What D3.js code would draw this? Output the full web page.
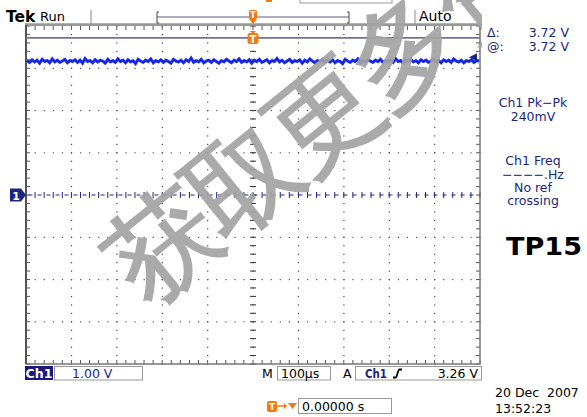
<!DOCTYPE html>
<html><head><meta charset="utf-8">
<script src="https://cdn.jsdelivr.net/npm/d3@7/dist/d3.min.js"></script>
<style>
body{margin:0;background:#fff}
svg{display:block}
text{font-family:"DejaVu Sans",Verdana,sans-serif}
</style>
</head><body>
<svg id="c" width="587" height="417"></svg>
<script>
// ---- data ----
const traceVolts = [
3.18,3.14,3.20,3.15,3.19,3.12,3.21,3.16,3.18,3.13,3.22,3.15,3.19,3.14,3.17,3.21,3.13,3.18,3.16,3.20,
3.14,3.19,3.12,3.23,3.16,3.18,3.13,3.20,3.15,3.19,3.17,3.12,3.21,3.15,3.18,3.14,3.22,3.16,3.19,3.13,
3.20,3.15,3.18,3.11,3.21,3.17,3.14,3.19,3.16,3.22,3.13,3.18,3.15,3.20,3.14,3.19,3.16,3.12,3.21,3.17,
3.15,3.19,3.13,3.20,3.16,3.24,3.14,3.18,3.15,3.21,3.13,3.17,3.19,3.14,3.20,3.16,3.12,3.18,3.15,3.21,
3.17,3.13,3.19,3.16,3.22,3.14,3.18,3.15,3.20,3.12,3.19,3.16,3.21,3.14,3.17,3.20,3.13,3.18,3.16,3.23,
3.15,3.19,3.13,3.17,3.21,3.14,3.18,3.16,3.20,3.12,3.19,3.15,3.22,3.17,3.13,3.18,3.16,3.21,3.14,3.19,
3.15,3.20,3.13,3.18,3.16,3.11,3.21,3.17,3.14,3.19,3.16,3.22,3.13,3.18,3.15,3.20,3.17,3.14,3.19,3.16,
3.21,3.13,3.18,3.15,3.20,3.14,3.23,3.16,3.18,3.12,3.19,3.17,3.21,3.15,3.18,3.13,3.20,3.16,3.19,3.14,
3.17,3.21,3.15,3.18,3.13,3.20,3.16,3.19,3.14,3.22,3.17,3.15,3.19,3.13,3.18,3.16,3.20,3.14,3.18,3.17
];
const timeDomain = [-500, 500];      // µs (100 µs/div, 10 div)
const voltDomain = [-4, 4];          // V (1.00 V/div, 8 div)
const cursorVolts = 3.72;
const triggerVolts = 3.26;
const cursorReadout = [["Δ:", "3.72 V"], ["@:", "3.72 V"]];
const measureLines = [["Ch1 Pk−Pk", 107], ["240mV", 121], ["Ch1 Freq", 165], ["−−−−.Hz", 178.5], ["No ref", 191.5], ["crossing", 205]];
const dateLines = ["20 Dec  2007", "13:52:23"];
const watermark = "获取更多资料";

// ---- layout ----
const svg = d3.select("#c");
const L = 26, R = 480, T = 26, B = 364;
const x = d3.scaleLinear().domain(timeDomain).range([L, R]);
const y = d3.scaleLinear().domain(voltDomain).range([B, T]);
const navy = "#1c2680", orange = "#f07a12", grey = "#888";

const majorT = d3.range(timeDomain[0], timeDomain[1] + 1, 100);
const minorT = d3.range(timeDomain[0], timeDomain[1] + 0.01, 20);
const majorV = d3.range(voltDomain[0], voltDomain[1] + 0.01, 1);
const minorV = d3.range(0, 41).map(i => voltDomain[0] + i * 0.2);

const g = svg.append("g");

// dotted graticule
majorT.slice(1, -1).forEach(t => {
  if (t === 0) return;
  g.selectAll(null).data(minorV).enter().append("rect")
    .attr("x", x(t) - 0.5).attr("y", d => y(d) - 0.5).attr("width", 1.2).attr("height", 1.2).attr("fill", "#444");
});
majorV.slice(1, -1).forEach(v => {
  if (v === 0) return;
  g.selectAll(null).data(minorT).enter().append("rect")
    .attr("x", d => x(d) - 0.5).attr("y", y(v) - 0.5).attr("width", 1.2).attr("height", 1.2).attr("fill", "#555");
});
// centre vertical with ticks
g.selectAll(null).data(minorV).enter().append("rect")
  .attr("x", x(0) - 0.5).attr("y", d => y(d) - 0.5).attr("width", 1.2).attr("height", 1.2).attr("fill", "#333");
g.selectAll(null).data(minorV).enter().append("line")
  .attr("x1", x(0) - 3).attr("x2", x(0) + 3).attr("y1", d => y(d)).attr("y2", d => y(d))
  .attr("stroke", "#333").attr("stroke-width", 1);
// centre horizontal (navy, dashed) with ticks
g.append("line").attr("x1", L).attr("x2", R).attr("y1", y(0)).attr("y2", y(0))
  .attr("stroke", navy).attr("stroke-width", 1.2).attr("stroke-dasharray", "4,5").attr("stroke-dashoffset", -2.5);
g.selectAll(null).data(minorT).enter().append("line")
  .attr("x1", d => x(d)).attr("x2", d => x(d)).attr("y1", y(0) - 3).attr("y2", y(0) + 3)
  .attr("stroke", navy).attr("stroke-width", 1);
// edge ticks
g.selectAll(null).data(minorT).enter().append("line")
  .attr("x1", d => x(d)).attr("x2", d => x(d)).attr("y1", T).attr("y2", T + 4).attr("stroke", "#555");
g.selectAll(null).data(minorT).enter().append("line")
  .attr("x1", d => x(d)).attr("x2", d => x(d)).attr("y1", B).attr("y2", B - 4).attr("stroke", "#555");
g.selectAll(null).data(minorV).enter().append("line")
  .attr("x1", L).attr("x2", L + 4).attr("y1", d => y(d)).attr("y2", d => y(d)).attr("stroke", "#555");
g.selectAll(null).data(minorV).enter().append("line")
  .attr("x1", R).attr("x2", R - 4).attr("y1", d => y(d)).attr("y2", d => y(d)).attr("stroke", "#555");
// frame
g.append("rect").attr("x", L).attr("y", T - 1).attr("width", R - L).attr("height", B - T + 1)
  .attr("fill", "none").attr("stroke", "#777").attr("stroke-width", 1.5);
g.append("line").attr("x1", L - 1).attr("x2", R + 1).attr("y1", T - 1.5).attr("y2", T - 1.5)
  .attr("stroke", "#999").attr("stroke-width", 2.5);
g.append("line").attr("x1", L).attr("x2", L).attr("y1", T - 1).attr("y2", B)
  .attr("stroke", "#555").attr("stroke-width", 2);

// cursor line
g.append("line").attr("x1", L).attr("x2", R).attr("y1", y(cursorVolts)).attr("y2", y(cursorVolts))
  .attr("stroke", "#6f7399").attr("stroke-width", 1.6);

// trace
const xi = d3.scaleLinear().domain([0, traceVolts.length - 1]).range([L + 1, R - 1]);
const lineGen = d3.line().x((d, i) => xi(i)).y(d => y(d));
g.append("path").datum(traceVolts).attr("d", lineGen)
  .attr("fill", "none").attr("stroke", "#4a5cf0").attr("stroke-width", 3.2)
  .attr("stroke-linejoin", "miter").attr("stroke-miterlimit", 6).attr("opacity", 0.85);
g.append("path").datum(traceVolts).attr("d", lineGen)
  .attr("fill", "none").attr("stroke", "#1424e0").attr("stroke-width", 2.4);

// trigger level marker (right edge)
const ty = y(triggerVolts);
g.append("path").attr("d", `M${R - 11},${ty} L${R - 3},${ty - 4} L${R - 3},${ty + 4} Z`).attr("fill", navy);

// watermark
const wm = svg.append("g").attr("transform", "translate(163,245) rotate(-39)");
wm.append("text").text(watermark)
  .attr("x", -54).attr("y", 0).attr("dominant-baseline", "central")
  .attr("font-family", "'Noto Sans CJK SC'").attr("font-size", 108).attr("letter-spacing", -5)
  .attr("fill", "#a3a3a3").attr("stroke", "#a3a3a3").attr("stroke-width", 1.5).attr("opacity", 0.92);
// mask out right panel
svg.append("rect").attr("x", 482).attr("y", 0).attr("width", 105).attr("height", 417).attr("fill", "#fff");

// T marker in grid
const tx = x(0);
g.append("path").attr("d", `M${tx - 3},${31} L${tx + 3},${31} L${tx},${34} Z`).attr("fill", orange);
g.append("rect").attr("x", tx - 5.5).attr("y", 33).attr("width", 11).attr("height", 11).attr("rx", 2.5).attr("fill", orange);
g.append("text").attr("x", tx).attr("y", 42.5).attr("text-anchor", "middle").attr("font-size", 10).attr("font-weight", "bold").attr("fill", "#fff").text("T");

// top header
svg.append("text").attr("x", 6).attr("y", 22).attr("font-family", "'Liberation Serif'").attr("font-weight", "bold").attr("font-size", 15.5).attr("fill", "#000").text("Tek");
svg.append("text").attr("x", 40).attr("y", 21).attr("font-size", 13).attr("fill", "#000").text("Run");
svg.append("line").attr("x1", 91).attr("x2", 91).attr("y1", 10).attr("y2", 24).attr("stroke", grey);
svg.append("line").attr("x1", 415).attr("x2", 415).attr("y1", 10).attr("y2", 24).attr("stroke", grey);
svg.append("text").attr("x", 419).attr("y", 21).attr("font-size", 14).attr("fill", "#000").text("Auto");
// record bracket
svg.append("line").attr("x1", 157).attr("x2", 349).attr("y1", 17).attr("y2", 17).attr("stroke", "#5a5f88").attr("stroke-width", 1.2);
svg.append("path").attr("d", "M159,12 L157,12 L157,23 L159,23 M347,12 L349,12 L349,23 L347,23").attr("fill", "none").attr("stroke", "#444");
// top T marker
svg.append("rect").attr("x", tx - 4).attr("y", 10).attr("width", 8).attr("height", 9).attr("rx", 1.5).attr("fill", orange);
svg.append("text").attr("x", tx).attr("y", 17.5).attr("text-anchor", "middle").attr("font-size", 8).attr("font-weight", "bold").attr("fill", "#fff").text("T");
svg.append("path").attr("d", `M${tx - 4},19 L${tx + 4},19 L${tx},24 Z`).attr("fill", orange);
// cut box at very top
svg.append("rect").attr("x", 300).attr("y", -6).attr("width", 92).attr("height", 9).attr("fill", "none").attr("stroke", "#999");
svg.append("rect").attr("x", 266).attr("y", -3).attr("width", 6).attr("height", 5).attr("fill", orange);

// Ch1 ground marker
g.append("path").attr("d", `M10,${y(0) - 6.5} L21,${y(0) - 6.5} L26,${y(0)} L21,${y(0) + 6.5} L10,${y(0) + 6.5} Z`).attr("fill", navy);
g.append("text").attr("x", 16).attr("y", y(0) + 4.5).attr("text-anchor", "middle").attr("font-size", 11).attr("font-weight", "bold").attr("fill", "#fff").text("1");

// right panel readouts
cursorReadout.forEach((r, i) => {
  const by = 37 + i * 13.5;
  svg.append("text").attr("x", 487).attr("y", by).attr("font-size", 12.5).attr("fill", navy).text(r[0]);
  svg.append("text").attr("x", 569).attr("y", by).attr("text-anchor", "end").attr("font-size", 12.5).attr("fill", navy).text(r[1]);
});
measureLines.forEach(m => {
  svg.append("text").attr("x", 533).attr("y", m[1]).attr("text-anchor", "middle").attr("font-size", 12.5).attr("fill", navy).text(m[0]);
});
svg.append("text").attr("x", 506).attr("y", 255).attr("font-family", "'Liberation Sans',Arial").attr("font-weight", "bold")
  .attr("font-size", 25).attr("textLength", 76).attr("lengthAdjust", "spacingAndGlyphs").attr("fill", "#000").text("TP15");

// bottom status line
svg.append("rect").attr("x", 25).attr("y", 366).attr("width", 28).attr("height", 14).attr("fill", "#1a1a7a");
svg.append("text").attr("x", 39).attr("y", 378).attr("text-anchor", "middle").attr("font-size", 12.5).attr("font-weight", "bold").attr("fill", "#fff").text("Ch1");
svg.append("rect").attr("x", 54.5).attr("y", 366.5).attr("width", 88).attr("height", 13.5).attr("fill", "none").attr("stroke", "#999");
svg.append("text").attr("x", 72).attr("y", 378).attr("font-size", 12.5).attr("fill", navy).text("1.00 V");
svg.append("text").attr("x", 262).attr("y", 378).attr("font-size", 12.5).attr("fill", "#000").text("M");
svg.append("rect").attr("x", 277.5).attr("y", 366.5).attr("width", 53).attr("height", 13.5).attr("fill", "none").attr("stroke", "#999");
svg.append("text").attr("x", 281).attr("y", 378).attr("font-size", 12.5).attr("fill", "#000").text("100µs");
svg.append("text").attr("x", 343).attr("y", 378).attr("font-size", 12.5).attr("fill", "#000").text("A");
svg.append("rect").attr("x", 355.5).attr("y", 366.5).attr("width", 126).attr("height", 13.5).attr("fill", "none").attr("stroke", "#999");
svg.append("text").attr("x", 365).attr("y", 378).attr("font-size", 12.5).attr("font-weight", "bold").attr("textLength", 22).attr("lengthAdjust", "spacingAndGlyphs").attr("fill", navy).text("Ch1");
svg.append("path").attr("d", "M393,377.5 L395.5,377.5 C397.5,377.5 397.5,369.5 399.5,369.5 L402,369.5").attr("fill", "none").attr("stroke", "#000").attr("stroke-width", 1.8);
svg.append("text").attr("x", 478).attr("y", 378).attr("text-anchor", "end").attr("font-size", 12.5).attr("fill", "#000").text("3.26 V");

// bottom second row
svg.append("rect").attr("x", 267).attr("y", 401).attr("width", 10).attr("height", 11).attr("rx", 2).attr("fill", orange);
svg.append("text").attr("x", 272).attr("y", 410).attr("text-anchor", "middle").attr("font-size", 9).attr("font-weight", "bold").attr("fill", "#fff").text("T");
svg.append("line").attr("x1", 277).attr("x2", 284).attr("y1", 406).attr("y2", 406).attr("stroke", orange).attr("stroke-width", 1.5);
svg.append("path").attr("d", "M284,403 L287,406 L284,409 Z").attr("fill", orange);
svg.append("path").attr("d", "M288,403 L297,403 L292.5,409 Z").attr("fill", orange);
svg.append("rect").attr("x", 298.5).attr("y", 398.5).attr("width", 93).attr("height", 15).attr("fill", "none").attr("stroke", "#999");
svg.append("text").attr("x", 302).attr("y", 411).attr("font-size", 12.5).attr("fill", "#000").text("0.00000 s");
dateLines.forEach((t, i) => {
  svg.append("text").attr("x", 495).attr("y", 397 + i * 16).attr("font-size", 12.5).attr("fill", "#000").style("white-space", "pre").text(t);
});
</script>
</body></html>
